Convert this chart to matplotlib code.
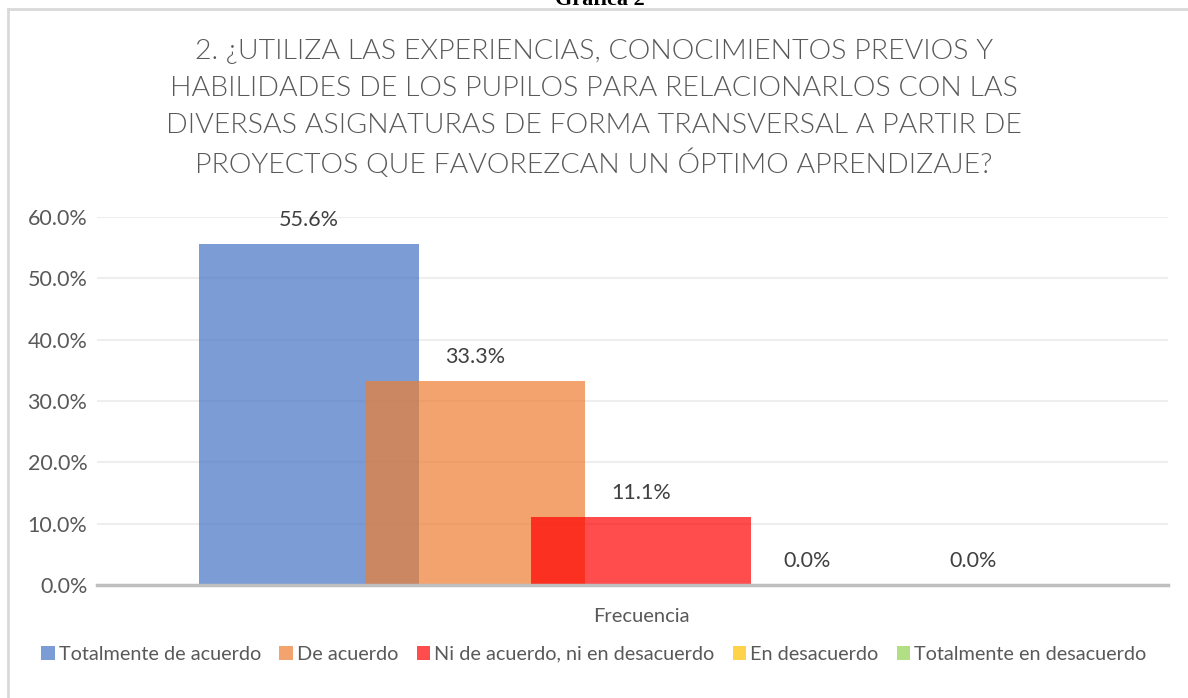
import matplotlib.pyplot as plt
from matplotlib.lines import Line2D
from matplotlib.patches import Patch

categorias = ['Totalmente de acuerdo', 'De acuerdo', 'Ni de acuerdo, ni en desacuerdo',
              'En desacuerdo', 'Totalmente en desacuerdo']
valores = [55.6, 33.3, 11.1, 0.0, 0.0]
colores = ['#4472C4', '#ED7D31', '#FF0000', '#FFC000', '#92D050']
titulo = ['2. ¿UTILIZA LAS EXPERIENCIAS, CONOCIMIENTOS PREVIOS Y',
          'HABILIDADES DE LOS PUPILOS PARA RELACIONARLOS CON LAS',
          'DIVERSAS ASIGNATURAS DE FORMA TRANSVERSAL A PARTIR DE',
          'PROYECTOS QUE FAVOREZCAN UN ÓPTIMO APRENDIZAJE?']
yticks = [0, 10, 20, 30, 40, 50, 60]

plt.rcParams['font.family'] = ['Lato', 'DejaVu Sans']

W, H = 1188, 698
fig = plt.figure(figsize=(W / 100, H / 100), dpi=100)
ax = fig.add_axes([97 / W, (H - 585) / H, (1168 - 97) / W, (585 - 217) / H])

for i, (v, c) in enumerate(zip(valores, colores)):
    ax.bar(i, v, width=1.325, color=c, alpha=0.7, linewidth=0, zorder=2 + i)
    ax.annotate('%.1f%%' % v, (i, v), xytext=(0, 17), textcoords='offset points',
                ha='center', va='center', fontsize=15.5, color='#404040', zorder=10)

ax.set_xlim(-1.277, 5.175)
ax.set_ylim(0, 60)
ax.set_yticks(yticks)
ax.set_yticklabels(['%.1f%%' % t for t in yticks], fontsize=15.5, color='#595959')
ax.set_xticks([])
ax.tick_params(axis='y', length=0, pad=7)
ax.grid(axis='y', color='#EEEEEE', linewidth=1.5, zorder=0)
ax.set_axisbelow(True)
for s in ['top', 'right', 'left']:
    ax.spines[s].set_visible(False)
ax.spines['bottom'].set_color('#BFBFBF')
ax.spines['bottom'].set_linewidth(2.5)
ax.spines['bottom'].set_zorder(20)

fig.text(641 / W, 1 - 616 / H, 'Frecuencia', ha='center', va='center',
         fontsize=14.5, color='#595959')

# titulo linea por linea para espaciado uniforme
for k, linea in enumerate(titulo):
    fig.text(0.5, 1 - (51 + 37.3 * k) / H, linea, ha='center', va='center',
             fontsize=20.5, color='#595959', fontweight=300)

fig.text(600 / W, 1 - 5 / H, 'Gráfica 2', ha='center', va='baseline', fontsize=16,
         fontweight='bold', family='Liberation Serif', color='black')

handles = [Patch(facecolor=c, alpha=0.7, edgecolor='none') for c in colores]
fig.legend(handles, categorias, loc='center', bbox_to_anchor=(594 / W, 1 - 654 / H),
           ncol=5, frameon=False, fontsize=14.3, handlelength=0.7, handleheight=0.7,
           handletextpad=0.2, columnspacing=0.9, labelcolor='#595959')

fig.add_artist(Line2D([8 / W, 1], [1 - 9 / H, 1 - 9 / H], color='#D9D9D9', linewidth=2))
fig.add_artist(Line2D([8 / W, 8 / W], [0, 1 - 9 / H], color='#D9D9D9', linewidth=2))

fig.savefig('out.png', dpi=100, facecolor='white')
